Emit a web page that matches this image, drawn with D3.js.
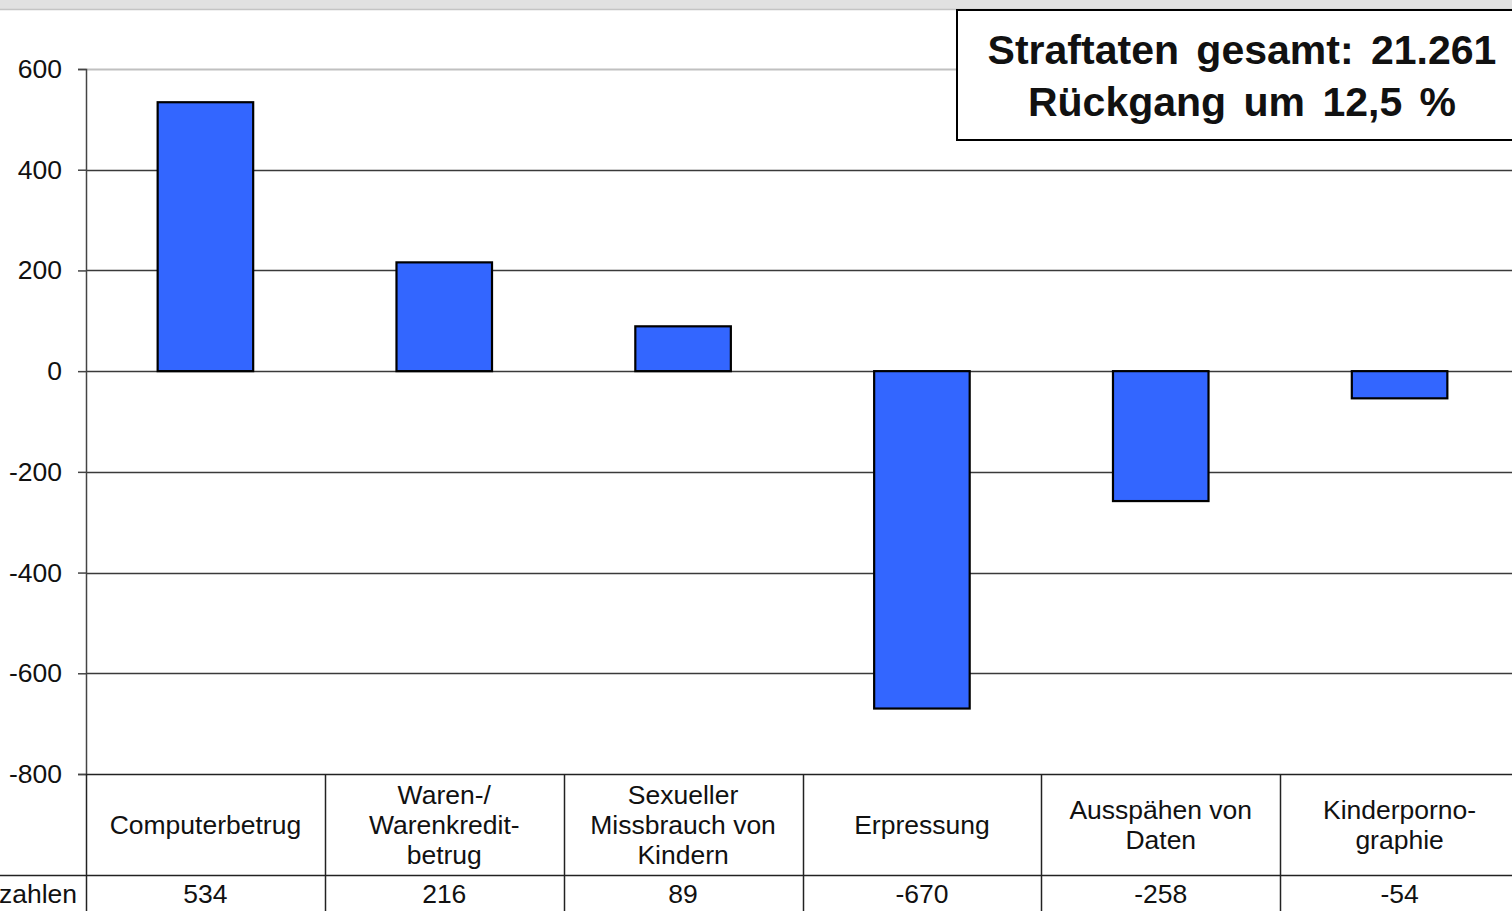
<!DOCTYPE html>
<html>
<head>
<meta charset="utf-8">
<title>Straftaten Veränderung</title>
<style>
  body { margin: 0; background: #fff; overflow: hidden; }
  svg text { font-family: "Liberation Sans", Arial, sans-serif; fill: #111; }
</style>
</head>
<body>
<div id="chart"></div>
<script src="https://d3js.org/d3.v7.min.js"></script>
<script>
// data
var categories = [
  ["Computerbetrug"],
  ["Waren-/", "Warenkredit-", "betrug"],
  ["Sexueller", "Missbrauch von", "Kindern"],
  ["Erpressung"],
  ["Ausspähen von", "Daten"],
  ["Kinderporno-", "graphie"]
];
var values = [534, 216, 89, -670, -258, -54];
var yTicks = [-800, -600, -400, -200, 0, 200, 400, 600];
var rowLabel = "Fallzahlen";
var titleLines = ["Straftaten gesamt: 21.261", "Rückgang um 12,5 %"];

var width = 1512, height = 911;
var plotLeft = 86, plotTop = 69, plotBottom = 774, plotRight = 1519;
var tableMid = 875;
var fontSize = 26.5;

var svg = d3.select("#chart").append("svg")
  .attr("width", width).attr("height", height);

// gray strip at the top
svg.append("rect").attr("x", 0).attr("y", 0).attr("width", width).attr("height", 9).attr("fill", "#e1e1e1");
svg.append("line").attr("x1", 0).attr("x2", width).attr("y1", 9.5).attr("y2", 9.5)
  .attr("stroke", "#c4c4c4").attr("stroke-width", 1.5);

var x = d3.scaleBand().domain(d3.range(values.length)).range([plotLeft, plotRight]).padding(0);
var y = d3.scaleLinear().domain([-800, 600]).range([plotBottom, plotTop]);
var fmt = function (d) { return String(d); };

// gridlines
svg.append("g").selectAll("line").data(yTicks.filter(function (d) { return d > -800; }))
  .enter().append("line")
  .attr("x1", plotLeft).attr("x2", width)
  .attr("y1", function (d) { return Math.round(y(d)) + 0.5; })
  .attr("y2", function (d) { return Math.round(y(d)) + 0.5; })
  .attr("stroke", function (d) { return d === 600 ? "#c0c0c0" : "#3a3a3a"; })
  .attr("stroke-width", function (d) { return d === 600 ? 2 : 1.3; });

// y axis
var yAxis = d3.axisLeft(y).tickValues(yTicks).tickSize(8).tickPadding(16).tickFormat(fmt);
var ga = svg.append("g").attr("transform", "translate(" + plotLeft + ",0)").call(yAxis);
ga.select(".domain").attr("stroke", "#444").attr("stroke-width", 1.5);
ga.selectAll(".tick line").attr("stroke", "#444").attr("stroke-width", 1.5);
ga.selectAll(".tick text").attr("font-size", fontSize).attr("fill", "#111")
  .style("font-family", "'Liberation Sans', Arial, sans-serif");

// bars
var bw = x.bandwidth() * 0.4;
svg.append("g").selectAll("rect").data(values).enter().append("rect")
  .attr("x", function (d, i) { return x(i) + (x.bandwidth() - bw) / 2; })
  .attr("y", function (d) { return y(Math.max(0, d)); })
  .attr("width", bw)
  .attr("height", function (d) { return Math.abs(y(d) - y(0)); })
  .attr("fill", "#3366ff").attr("stroke", "#000").attr("stroke-width", 2.2);

// data table
var tbl = svg.append("g");
tbl.append("line").attr("x1", plotLeft).attr("x2", width).attr("y1", plotBottom + 0.5).attr("y2", plotBottom + 0.5)
  .attr("stroke", "#222").attr("stroke-width", 1.5);
tbl.append("line").attr("x1", 0).attr("x2", width).attr("y1", tableMid + 0.5).attr("y2", tableMid + 0.5)
  .attr("stroke", "#222").attr("stroke-width", 1.5);
tbl.selectAll(".vsep").data(d3.range(values.length + 1)).enter().append("line")
  .attr("x1", function (i) { return Math.round(plotLeft + i * x.bandwidth()) + 0.5; })
  .attr("x2", function (i) { return Math.round(plotLeft + i * x.bandwidth()) + 0.5; })
  .attr("y1", plotBottom).attr("y2", height)
  .attr("stroke", "#222").attr("stroke-width", 1.5);

var lineH = 30;
tbl.selectAll(".cat").data(categories).enter().append("text")
  .attr("text-anchor", "middle").attr("font-size", fontSize)
  .each(function (lines, i) {
    var t = d3.select(this);
    var cy = (plotBottom + tableMid) / 2 + 9;
    var y0 = cy - (lines.length - 1) * lineH / 2;
    lines.forEach(function (l, k) {
      t.append("tspan").attr("x", x(i) + x.bandwidth() / 2).attr("y", y0 + k * lineH).text(l);
    });
  });

tbl.selectAll(".val").data(values).enter().append("text")
  .attr("text-anchor", "middle").attr("font-size", fontSize)
  .attr("x", function (d, i) { return x(i) + x.bandwidth() / 2; })
  .attr("y", 903)
  .text(fmt);

tbl.append("text").attr("text-anchor", "end").attr("font-size", fontSize)
  .attr("x", 77).attr("y", 903).text(rowLabel);

// summary box
var box = svg.append("g");
box.append("rect").attr("x", 957).attr("y", 10).attr("width", 600).attr("height", 130)
  .attr("fill", "#fff").attr("stroke", "#000").attr("stroke-width", 2);
box.selectAll("text").data(titleLines).enter().append("text")
  .attr("x", 1242).attr("y", function (d, i) { return 64 + i * 52; })
  .attr("text-anchor", "middle").attr("font-size", 41).attr("font-weight", "bold")
  .style("word-spacing", "6px")
  .text(function (d) { return d; });
</script>
</body>
</html>
